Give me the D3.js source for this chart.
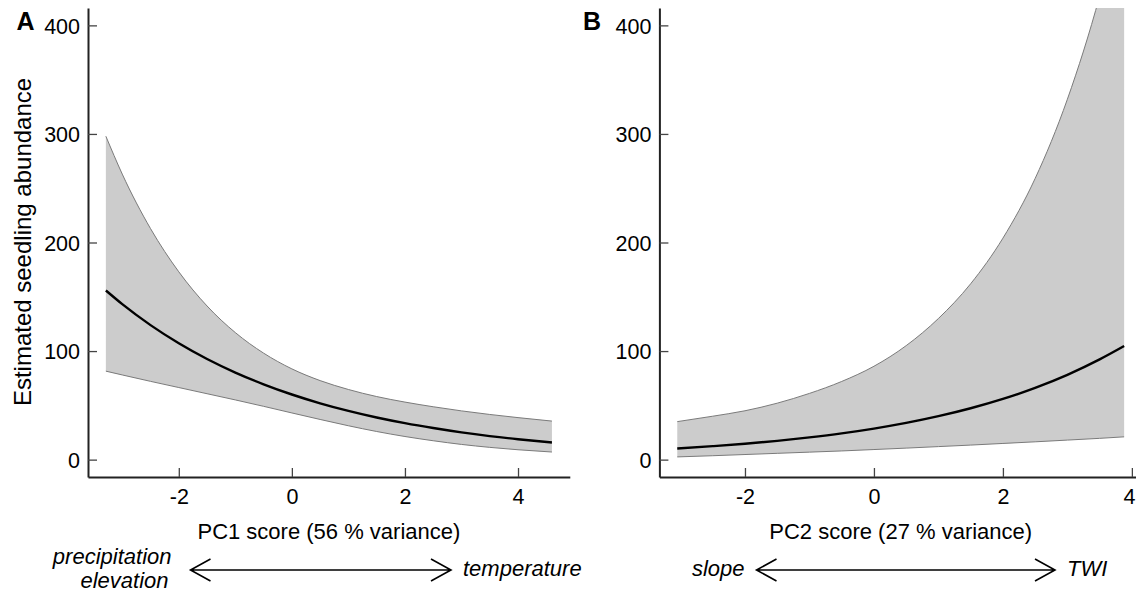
<!DOCTYPE html>
<html>
<head>
<meta charset="utf-8">
<script src="https://cdn.jsdelivr.net/npm/d3@7"></script>
<style>
  html, body { margin: 0; padding: 0; background: #fff; }
  svg { display: block; }
  text { font-family: "Liberation Sans", Arial, Helvetica, sans-serif; fill: #000; }
</style>
</head>
<body>
<svg id="chart" width="1136" height="593"></svg>
<script>
// ---- Data ----
const xA = [-3.29, -3, -2.5, -2, -1.5, -1, -0.5, 0, 0.5, 1, 1.5, 2, 2.5, 3, 3.5, 4, 4.6];
const meanA = [155.8, 143.2, 123.9, 107.2, 92.7, 80.2, 69.4, 60, 51.9, 44.9, 38.8, 33.6, 29.1, 25.1, 21.7, 18.8, 15.8];
const upperA = [297.9, 263, 212.8, 173.0, 141.5, 117.0, 98.1, 83.6, 72.8, 64.6, 58.1, 53.0, 48.7, 44.9, 41.6, 38.7, 35.5];
const lowerA = [81.5, 78.0, 72.1, 66.4, 60.7, 55.0, 49.1, 43.0, 37.0, 31.2, 25.9, 21.3, 17.4, 14.0, 11.3, 9.1, 7.0];

const xB = [-3.05, -2.5, -2, -1.5, -1, -0.5, 0, 0.5, 1, 1.5, 2, 2.5, 3, 3.5, 3.88];
const meanB = [10.3, 12.4, 14.6, 17.3, 20.5, 24.2, 28.6, 33.8, 40.0, 47.3, 55.9, 66.1, 78.1, 92.3, 104.6];
const upperB = [35, 40, 45, 52, 61, 72, 86, 105, 130, 162, 204, 259, 332, 427, 518];
const lowerB = [2.5, 3.6, 4.7, 5.8, 6.9, 8.0, 9.3, 10.6, 12.0, 13.4, 14.9, 16.4, 18.0, 19.6, 21];

const yTicks = [0, 100, 200, 300, 400];
const xTicks = [-2, 0, 2, 4];
const yLabel = "Estimated seedling abundance";

const panels = [
  { id: "A", letter: "A", xs: xA, mean: meanA, upper: upperA, lower: lowerA,
    xDomain: [-3.606, 4.916], range: [88, 569.8],
    title: "PC1 score (56 % variance)",
    leftText: ["precipitation", "elevation"], rightText: "temperature",
    arrow: [190.5, 451], letterX: 16.5 },
  { id: "B", letter: "B", xs: xB, mean: meanB, upper: upperB, lower: lowerB,
    xDomain: [-3.327, 4.157], range: [659.4, 1142],
    title: "PC2 score (27 % variance)",
    leftText: ["slope"], rightText: "TWI",
    arrow: [756.5, 1055], letterX: 583 }
];

const W = 1136;
const svg = d3.select("#chart");
const plotTop = 8, plotBottom = 477;
const y = d3.scaleLinear().domain([-16, 416]).range([plotBottom, plotTop]);

panels.forEach(p => {
  const x = d3.scaleLinear().domain(p.xDomain).range(p.range);
  const g = svg.append("g");

  const clipId = "clip" + p.id;
  svg.append("clipPath").attr("id", clipId)
    .append("rect").attr("x", p.range[0]).attr("y", plotTop)
    .attr("width", p.range[1] - p.range[0]).attr("height", plotBottom - plotTop);

  const pts = p.xs.map((v, i) => ({ x: v, m: p.mean[i], u: p.upper[i], l: p.lower[i] }));
  const plot = g.append("g").attr("clip-path", `url(#${clipId})`);

  const area = d3.area().x(d => x(d.x)).y0(d => y(d.l)).y1(d => y(d.u)).curve(d3.curveMonotoneX);
  plot.append("path").datum(pts).attr("d", area).attr("fill", "#cccccc").attr("stroke", "none");

  const upLine = d3.line().x(d => x(d.x)).y(d => y(d.u)).curve(d3.curveMonotoneX);
  const loLine = d3.line().x(d => x(d.x)).y(d => y(d.l)).curve(d3.curveMonotoneX);
  plot.append("path").datum(pts).attr("d", upLine).attr("fill", "none").attr("stroke", "#7a7a7a").attr("stroke-width", 1);
  plot.append("path").datum(pts).attr("d", loLine).attr("fill", "none").attr("stroke", "#7a7a7a").attr("stroke-width", 1);

  const mLine = d3.line().x(d => x(d.x)).y(d => y(d.m)).curve(d3.curveMonotoneX);
  plot.append("path").datum(pts).attr("d", mLine).attr("fill", "none").attr("stroke", "#000").attr("stroke-width", 2.4);

  // Y axis (ticks inward)
  const ya = g.append("g").attr("transform", `translate(${p.range[0]},0)`)
    .call(d3.axisRight(y).tickValues(yTicks).tickSize(9).tickSizeOuter(0).tickFormat(d3.format("d")));
  ya.select(".domain").attr("stroke", "#222").attr("stroke-width", 2);
  ya.selectAll(".tick line").attr("stroke", "#444").attr("stroke-width", 1.3);
  ya.selectAll(".tick text").attr("x", -8).attr("dy", "0.36em").attr("text-anchor", "end")
    .style("font-size", "21.5px").attr("fill", "#000");

  // X axis (ticks inward)
  const xa = g.append("g").attr("transform", `translate(0,${plotBottom})`)
    .call(d3.axisTop(x).tickValues(xTicks).tickSize(9).tickSizeOuter(0).tickFormat(d => String(d)));
  xa.select(".domain").attr("stroke", "#222").attr("stroke-width", 2);
  xa.selectAll(".tick line").attr("stroke", "#444").attr("stroke-width", 1.3);
  xa.selectAll(".tick text").attr("y", 26.5).attr("dy", "0").attr("text-anchor", "middle")
    .style("font-size", "21.5px").attr("fill", "#000")
    .each(function(d) {
      // keep a label that would run past the right edge inside the picture
      const bb = this.getBBox();
      const right = x(d) + bb.x + bb.width;
      if (right > W - 1) d3.select(this).attr("x", (W - 1) - right);
    });

  // Panel letter
  g.append("text").attr("x", p.letterX).attr("y", 30).text(p.letter)
    .style("font-size", "25px").style("font-weight", "bold");

  // X title
  const cx = (p.range[0] + p.range[1]) / 2;
  g.append("text").attr("x", cx).attr("y", 539).attr("text-anchor", "middle")
    .style("font-size", "22px").text(p.title);

  // Arrow
  const ay = 570, [a1, a2] = p.arrow;
  g.append("path")
    .attr("d", `M${a1},${ay}L${a2},${ay}M${a1 + 20},${ay - 11}L${a1},${ay}L${a1 + 20},${ay + 11}M${a2 - 20},${ay - 11}L${a2},${ay}L${a2 - 20},${ay + 11}`)
    .attr("fill", "none").attr("stroke", "#000").attr("stroke-width", 1.6);

  // Arrow end labels
  if (p.leftText.length === 2) {
    g.append("text").attr("x", a1 - 19).attr("y", 564).attr("text-anchor", "end")
      .style("font-size", "22px").style("font-style", "italic").text(p.leftText[0]);
    g.append("text").attr("x", a1 - 22).attr("y", 588).attr("text-anchor", "end")
      .style("font-size", "22px").style("font-style", "italic").text(p.leftText[1]);
  } else {
    g.append("text").attr("x", a1 - 12).attr("y", 576).attr("text-anchor", "end")
      .style("font-size", "22px").style("font-style", "italic").text(p.leftText[0]);
  }
  g.append("text").attr("x", a2 + 12).attr("y", 576).attr("text-anchor", "start")
    .style("font-size", "22px").style("font-style", "italic").text(p.rightText);
});

// Y axis title
svg.append("text").attr("transform", "translate(31,242) rotate(-90)")
  .attr("text-anchor", "middle").style("font-size", "24px").text(yLabel);
</script>
</body>
</html>
